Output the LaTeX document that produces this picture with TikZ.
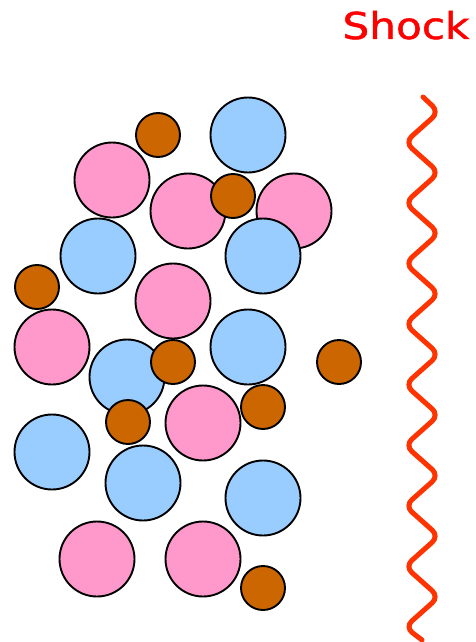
\documentclass[tikz,border=0pt]{standalone}
\usepackage{fontspec}
\newfontfamily\shockfont[FakeBold=1.2]{DejaVu Sans}
\usetikzlibrary{positioning}
\definecolor{ionpink}{RGB}{255,153,204}
\definecolor{ionblue}{RGB}{153,204,255}
\definecolor{dustbrown}{RGB}{204,102,0}
\definecolor{shockred}{RGB}{255,51,0}
\tikzset{
	particle/.style={
		circle,
		draw=black,
		line width=1.9pt,
		inner sep=0pt
	},
	bigion/.style={
		particle,
		minimum size=75pt
	},
	grain/.style={
		particle,
		fill=dustbrown,
		minimum size=44pt
	},
	front/.style={
		draw=shockred,
		line width=5pt,
		line cap=round,
		rounded corners=9pt
	}
}
\begin{document}
\begin{tikzpicture}[x=1pt, y=-1pt]
	\useasboundingbox (0,0) rectangle (475,642);
	
	%--------------------
	% Pink ions
	%--------------------
	\foreach \name/\px/\py in {p1/112/180, p2/188/211, p3/294/211, p4/173/301,
		p5/52/347, p6/203/423, p7/97/559, p8/203/559}
		\node[bigion, fill=ionpink] (\name) at (\px,\py) {};
	
	%--------------------
	% Blue ions
	%--------------------
	\foreach \name/\px/\py in {b1/248/135, b2/98/256, b3/263/256, b4/248/347,
		b5/127/377, b6/52/452, b7/143/483, b8/263/498}
		\node[bigion, fill=ionblue] (\name) at (\px,\py) {};
	
	%--------------------
	% Dust grains
	%--------------------
	\foreach \name/\px/\py in {d1/158/135, d2/233/196, d3/37/287, d4/173/362,
		d5/339/362, d6/128/422, d7/263/407, d8/263/588}
		\node[grain] (\name) at (\px,\py) {};
	
	%--------------------
	% Shock front
	%--------------------
	\draw[front] (423,97)
		\foreach \k in {0,...,8} { -- (439,{112+60.6*\k}) -- (405,{142.3+60.6*\k}) }
		-- (422,640);
	
	\node[text=red, font=\shockfont\fontsize{37}{37}\selectfont, xscale=1.14,
		anchor=base] (shocklabel) at (406,39) {Shock};
	
\end{tikzpicture}
\end{document}
